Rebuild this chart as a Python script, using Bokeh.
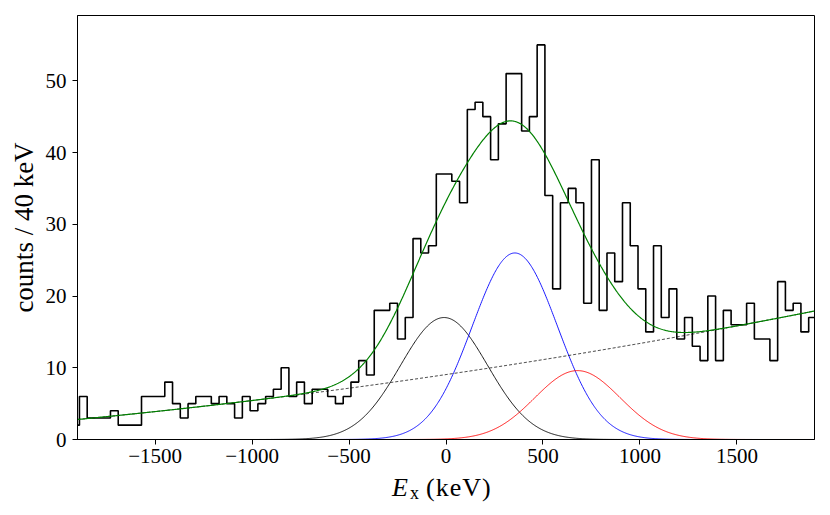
import numpy as np
from bokeh.plotting import figure
from bokeh.models import Range1d, FixedTicker, Div
from bokeh.layouts import column
from bokeh.embed import file_html
from bokeh.resources import INLINE

# ---- histogram data (counts per 40 keV bin) ----
bin_width = 40
first_edge = -1930
counts = [2, 6, 3, 3, 3, 4, 2, 2, 2, 6,
          6, 6, 8, 5, 3, 5, 6, 6, 5, 6,
          5, 3, 6, 4, 5, 6, 7, 10, 6, 8,
          5, 7, 7, 6, 5, 6, 8, 11, 9, 18,
          18, 19, 14, 17, 28, 26, 27, 37, 37, 36,
          33, 46, 47, 45, 39, 44, 51, 51, 43, 45,
          55, 34, 21, 33, 35, 33, 19, 39, 18, 26,
          22, 33, 27, 21, 15, 27, 17, 21, 14, 17,
          13, 11, 20, 11, 18, 16, 16, 19, 14, 14,
          11, 22, 18, 19, 15, 17]

# ---- fit parameters ----
bg_coeffs = [9.05, 0.00398, 3.6e-7]      # quadratic background
peak_centers = [-10.0, 355.0, 678.0]
peak_amps = [17.0, 26.0, 9.6]
peak_sigmas = [225.0, 220.0, 220.0]
peak_colors = ["black", "#0000ff", "#ff0000"]

x_ticks = [-1500, -1000, -500, 0, 500, 1000, 1500]
y_ticks = [0, 10, 20, 30, 40, 50]

FONT = "Liberation Serif"

p = figure(width=826, height=475, output_backend="svg", toolbar_location=None,
           x_range=Range1d(-1900, 1900), y_range=Range1d(0, 59.1),
           min_border_left=77, min_border_right=12, min_border_top=15,
           min_border_bottom=36)
p.xgrid.visible = False
p.ygrid.visible = False
p.outline_line_color = "black"
p.outline_line_width = 1
p.outline_line_alpha = 1

for ax, ticks in ((p.xaxis[0], x_ticks), (p.yaxis[0], y_ticks)):
    ax.ticker = FixedTicker(ticks=ticks)
    ax.minor_tick_line_color = None
    ax.major_tick_in = 0
    ax.major_tick_out = 5
    ax.major_tick_line_color = "black"
    ax.axis_line_color = "black"
    ax.major_label_text_font = FONT
    ax.major_label_text_font_size = "21px"
    ax.major_label_text_color = "black"
    ax.major_label_overrides = {t: (("\u2212" + str(abs(t))) if t < 0 else str(t)) for t in ticks}
p.xaxis[0].major_label_standoff = 4
p.yaxis[0].major_label_standoff = 6

p.yaxis[0].axis_label = "counts / 40 keV"
p.yaxis[0].axis_label_text_font = FONT
p.yaxis[0].axis_label_text_font_size = "27px"
p.yaxis[0].axis_label_text_font_style = "normal"
p.yaxis[0].axis_label_text_color = "black"
p.yaxis[0].axis_label_standoff = 4

# histogram outline
edges = first_edge + bin_width * np.arange(len(counts) + 1)
step_y = list(counts) + [counts[-1]]
p.step(x=edges, y=step_y, mode="after", line_color="black", line_width=1.6)

# fit curves
xs = np.linspace(-1900, 1900, 951)
bg = bg_coeffs[0] + bg_coeffs[1] * xs + bg_coeffs[2] * xs ** 2
total = bg.copy()
for c, a, s, col in zip(peak_centers, peak_amps, peak_sigmas, peak_colors):
    g = a * np.exp(-0.5 * ((xs - c) / s) ** 2)
    total += g
    p.line(xs, g, line_color=col, line_width=0.9)
p.line(xs, bg, line_color="black", line_width=0.8, line_dash="3 2")
p.line(xs, total, line_color="#008000", line_width=1.2)

# x axis label: italic E with subscript x, then (keV)
xlabel_html = (
    '<div style="position:relative;width:826px;height:40px;'
    'font-family:\'Liberation Serif\',serif;color:#000;">'
    '<span style="position:absolute;left:392px;top:0px;font-size:26px;'
    'line-height:26px;font-style:italic;">E</span>'
    '<span style="position:absolute;left:410px;top:9px;font-size:18px;'
    'line-height:18px;">x</span>'
    '<span style="position:absolute;left:426px;top:0px;font-size:26px;'
    'line-height:26px;letter-spacing:1px;">(keV)</span>'
    '</div>'
)
xlabel = Div(text=xlabel_html, width=826, height=40, margin=(0, 0, 0, 0))

layout = column(p, xlabel, spacing=0)
open("out.html", "w").write(file_html(layout, INLINE))
